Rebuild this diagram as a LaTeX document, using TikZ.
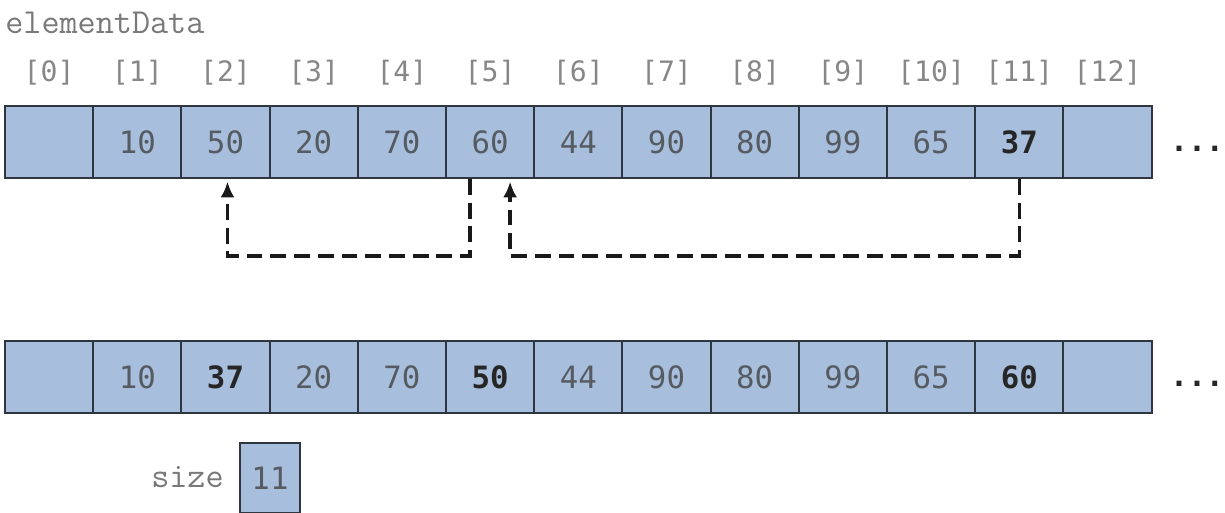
\documentclass[tikz,border=0pt]{standalone}
\usepackage{fontspec}
\newfontfamily\monofont{DejaVu Sans Mono}
\usetikzlibrary{arrows.meta,positioning,calc}
\definecolor{cellblue}{HTML}{A7BEDC}
\definecolor{cellline}{HTML}{2F3640}
\definecolor{numgray}{HTML}{565B62}
\definecolor{idxgray}{HTML}{878787}
\tikzset{
  cell/.style={draw=cellline, line width=1.1pt, fill=cellblue, minimum width=1.764cm,
    minimum height=1.44cm, inner sep=0pt, font=\monofont\fontsize{17.5}{20}\selectfont, text=numgray},
  plain/.style={},
  hot/.style={font=\monofont\bfseries\fontsize{17.5}{20}\selectfont, text=black!85},
  idx/.style={font=\monofont\fontsize{16}{19}\selectfont, text=idxgray},
  word/.style={font=\ttfamily\fontsize{20}{24}\selectfont, text=idxgray!90!black, inner sep=0pt},
  more/.style={font=\monofont\bfseries\fontsize{17}{20}\selectfont, text=black!85},
  swap/.style={draw=black!90, line width=2pt, dash pattern=on 9pt off 4.5pt,
    -{Latex[length=9pt,width=8pt]}, shorten >=1.5pt},
}

\begin{document}
\begin{tikzpicture}[x=0.02cm, y=0.02cm]
    \useasboundingbox (0,0) rectangle (1225,-512);
    \clip (0,0) rectangle (1225,-512);

    % Array name
    \node[word, anchor=base west] (name) at (5,-33) {elementData};

    % Array before the swaps
    \foreach \v/\s [count=\i from 0] in {{}/plain, 10/plain, 50/plain, 20/plain, 70/plain, 60/plain,
        44/plain, 90/plain, 80/plain, 99/plain, 65/plain, 37/hot, {}/plain} {
        \node[cell, \s] (t\i) at ({49.1+88.2*\i},-142) {\v};
        \node[idx] (l\i) at ($(t\i.north)+(0,32)$) {[\i]};
    }
    \node[more] (dotsT) at (1197,-149) {...};

    % Array after the swaps
    \foreach \v/\s [count=\i from 0] in {{}/plain, 10/plain, 37/hot, 20/plain, 70/plain, 50/hot,
        44/plain, 90/plain, 80/plain, 99/plain, 65/plain, 60/hot, {}/plain} {
        \node[cell, \s] (b\i) at ({49.1+88.2*\i},-377) {\v};
    }
    \node[more] (dotsB) at (1197,-384) {...};

    % Moves
    \draw[swap] ($(t5.south)+(-20,0)$) -- ++(0,-77) -| ($(t2.south)+(2,0)$);
    \draw[swap] (t11.south) -- ++(0,-77) -| ($(t5.south)+(20,0)$);

    % Size field
    \node[cell, minimum width=1.2cm, minimum height=1.4cm, anchor=north] (sizebox) at (270,-442) {11};
    \node[word, anchor=base east] (size) at (224,-487) {size};
\end{tikzpicture}
\end{document}
